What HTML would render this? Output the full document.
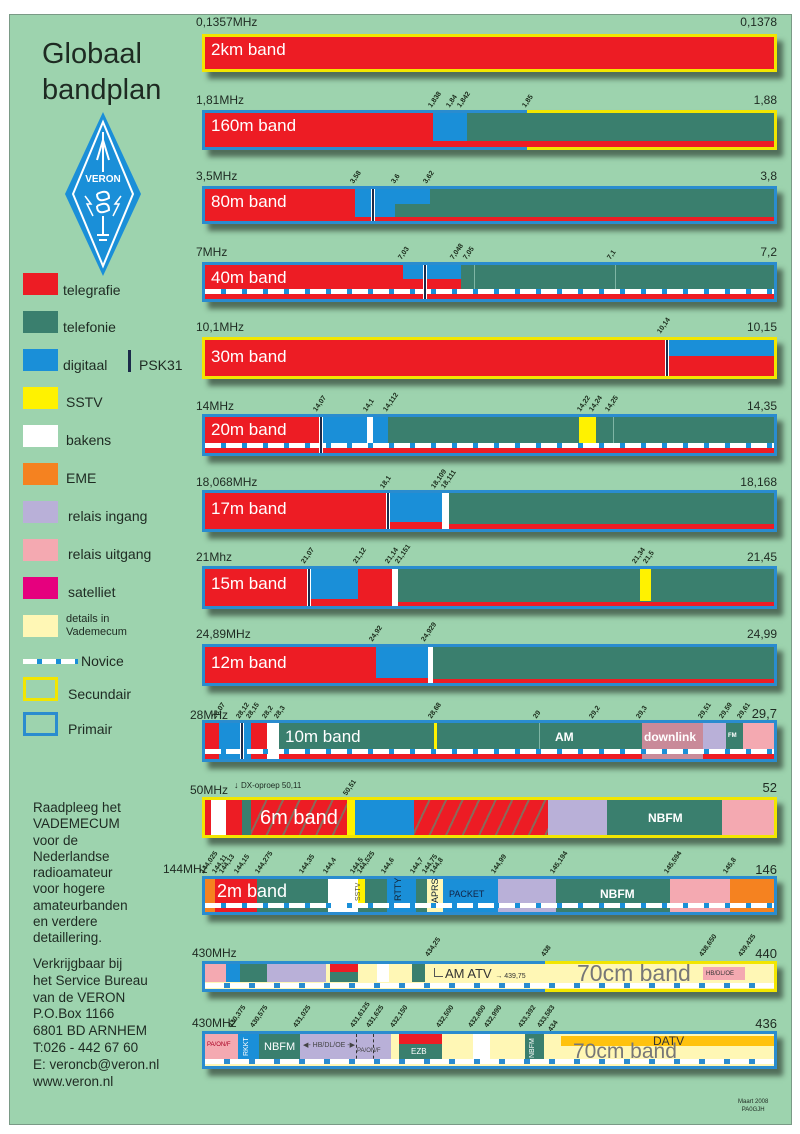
<!DOCTYPE html>
<html><head><meta charset="utf-8"><style>
*{margin:0;padding:0;box-sizing:content-box}
body{width:800px;height:1134px;background:#fff;position:relative;overflow:hidden;font-family:"Liberation Sans",sans-serif;color:#1e2a22}
#p{position:absolute;left:9px;top:14px;width:781px;height:1109px;background:#9dd3ae;border:1px solid #7a9a86}
.a{position:absolute}
.box{position:absolute;left:202px;width:569px;border:3px solid #2a8ccf;box-shadow:6px 7px 5px rgba(40,55,45,.65);background:#ed1c24;overflow:visible}
.sec{border-color:#f2e600}
.s{position:absolute;top:0}
.r{background:#ed1c24}.g{background:#3a7f6e}.b{background:#1a8fd8}.y{background:#fff200}.w{background:#fff}.o{background:#f58220}.l{background:#b9b0d8}.pk{background:#f4a9b1}.c{background:#fff7b5}
.nv{position:absolute;left:0;width:569px;height:5px;background:repeating-linear-gradient(90deg,#fff 0 16px,#1a8fd8 16px 21px)}
.nv2{position:absolute;left:0;width:569px;height:5px;background:repeating-linear-gradient(90deg,#fff 0 19px,#2a8ccf 19px 25px)}
.psk{position:absolute;top:0;width:2px;height:100%;background:#1b2a4a;border-left:1px solid #fff;border-right:1px solid #fff}
.bl{position:absolute;left:6px;top:3px;color:#fff;font-size:17px;white-space:nowrap}
.f{position:absolute;font-size:12px;white-space:nowrap}
.fr{position:absolute;right:23px;font-size:12px;white-space:nowrap}
.t{position:absolute;font-size:7px;margin-top:6px;transform:rotate(-55deg);transform-origin:0 100%;white-space:nowrap;color:#1a2a1a;font-weight:bold}
.lg{position:absolute;left:23px;width:35px;height:22px}
.lt{position:absolute;left:66px;font-size:14px;white-space:nowrap}
.sm{position:absolute;color:#fff;font-size:11px;font-weight:bold;white-space:nowrap}
.hatch{background:repeating-linear-gradient(115deg,#ed1c24 0 13px,#8a6a5a 13px 15px)}
</style></head><body>
<div id="p"></div>

<div class="a" style="left:42px;top:36px;font-size:29px;line-height:36px;color:#1e2a22">Globaal<br>bandplan</div>
<svg class="a" style="left:63px;top:110px" width="80" height="168" viewBox="0 0 80 168">
<polygon points="40,2 78,84 40,166 2,84" fill="#1a8fd8"/>
<polygon points="40,12 70,84 40,156 10,84" fill="none" stroke="#fff" stroke-width="2"/>
<text x="40" y="72" font-size="10" fill="#fff" text-anchor="middle" font-family="Liberation Sans" font-weight="bold">VERON</text>
<path d="M40 22 L40 62 M34 50 L40 30 L46 50 M34 84 q12 -6 12 4 q-12 6 -12 -4 M34 96 q12 -6 12 4 q-12 6 -12 -4 M40 106 L40 125 M34 125 L46 125 M36 130 L44 130" stroke="#fff" stroke-width="2" fill="none"/>
<path d="M22 86 l6 8 -4 0 6 12 M58 86 l-6 8 4 0 -6 12" stroke="#fff" stroke-width="1.5" fill="none"/>
</svg>

<div class="lg r" style="top:273px"></div><div class="lt" style="left:63px;top:282px">telegrafie</div>
<div class="lg g" style="top:311px"></div><div class="lt" style="left:63px;top:319px">telefonie</div>
<div class="lg b" style="top:349px"></div><div class="lt" style="left:63px;top:357px">digitaal</div>
<div class="a" style="left:128px;top:350px;width:3px;height:22px;background:#1b2a4a"></div><div class="lt" style="left:139px;top:357px">PSK31</div>
<div class="lg y" style="top:387px"></div><div class="lt" style="top:394px">SSTV</div>
<div class="lg w" style="top:425px"></div><div class="lt" style="top:432px">bakens</div>
<div class="lg o" style="top:463px"></div><div class="lt" style="top:470px">EME</div>
<div class="lg l" style="top:501px"></div><div class="lt" style="left:68px;top:508px">relais ingang</div>
<div class="lg pk" style="top:539px"></div><div class="lt" style="left:68px;top:546px">relais uitgang</div>
<div class="lg" style="top:577px;background:#e6007e"></div><div class="lt" style="left:68px;top:584px">satelliet</div>
<div class="lg c" style="top:615px"></div><div class="lt" style="left:66px;top:613px;font-size:11px;line-height:13px">details in<br>Vademecum</div>
<div class="a" style="left:23px;top:659px;width:55px;height:5px;background:repeating-linear-gradient(90deg,#fff 0 14px,#1a8fd8 14px 19px)"></div><div class="lt" style="left:81px;top:653px">Novice</div>
<div class="a" style="left:23px;top:677px;width:29px;height:18px;border:3px solid #f2e600"></div><div class="lt" style="left:68px;top:686px">Secundair</div>
<div class="a" style="left:23px;top:712px;width:29px;height:18px;border:3px solid #2a8ccf"></div><div class="lt" style="left:68px;top:721px">Primair</div>

<div class="a" style="left:33px;top:800px;font-size:13.5px;line-height:16.3px">Raadpleeg het<br>VADEMECUM<br>voor de<br>Nederlandse<br>radioamateur<br>voor hogere<br>amateurbanden<br>en verdere<br>detaillering.</div>
<div class="a" style="left:33px;top:956px;font-size:13.5px;line-height:16.8px">Verkrijgbaar bij<br>het Service Bureau<br>van de VERON<br>P.O.Box 1166<br>6801 BD ARNHEM<br>T:026 - 442 67 60<br>E: veroncb@veron.nl<br>www.veron.nl</div>
<div class="a" style="left:738px;top:1098px;font-size:6px;line-height:8px;text-align:center">Maart 2008<br>PA0GJH</div>

<!-- 2km -->
<div class="f" style="left:196px;top:15px">0,1357MHz</div><div class="fr" style="top:15px">0,1378</div>
<div class="box sec" style="top:34px;height:32px"><div class="bl">2km band</div></div>

<!-- 160m -->
<div class="f" style="left:196px;top:93px">1,81MHz</div><div class="fr" style="top:93px">1,88</div>
<div class="t" style="left:433px;top:96px">1,838</div><div class="t" style="left:451px;top:96px">1,84</div><div class="t" style="left:462px;top:96px">1,842</div><div class="t" style="left:527px;top:96px">1,85</div>
<div class="box" style="top:110px;height:34px;background:#3a7f6e">
<div class="s r" style="left:0;width:228px;height:34px"></div>
<div class="s b" style="left:228px;width:34px;height:28px"></div>
<div class="s r" style="left:228px;top:28px;width:341px;height:6px"></div>
<div class="a" style="left:322px;top:-3px;right:-3px;bottom:-3px;border:3px solid #f2e600;border-left:none"></div>
<div class="bl">160m band</div></div>

<!-- 80m -->
<div class="f" style="left:196px;top:169px">3,5MHz</div><div class="fr" style="top:169px">3,8</div>
<div class="t" style="left:355px;top:172px">3,58</div><div class="t" style="left:396px;top:172px">3,6</div><div class="t" style="left:428px;top:172px">3,62</div>
<div class="box" style="top:186px;height:32px;background:#3a7f6e">
<div class="s r" style="left:0;width:150px;height:32px"></div>
<div class="s b" style="left:150px;width:75px;height:15px"></div>
<div class="s b" style="left:150px;width:40px;height:28px"></div>
<div class="s r" style="left:150px;top:28px;width:419px;height:4px"></div>
<div class="psk" style="left:166px"></div>
<div class="bl">80m band</div></div>

<!-- 40m -->
<div class="f" style="left:196px;top:245px">7MHz</div><div class="fr" style="top:245px">7,2</div>
<div class="t" style="left:403px;top:248px">7,03</div><div class="t" style="left:455px;top:248px">7,048</div><div class="t" style="left:468px;top:248px">7,05</div><div class="t" style="left:612px;top:248px">7,1</div>
<div class="box" style="top:262px;height:34px">
<div class="s b" style="left:198px;width:58px;height:14px"></div>
<div class="s g" style="left:256px;width:313px;height:24px"></div>
<div class="s" style="left:269px;width:1px;height:24px;background:#7fb5a5"></div>
<div class="s" style="left:410px;width:1px;height:24px;background:#7fb5a5"></div>
<div class="nv" style="top:24px"></div>
<div class="psk" style="left:218px"></div>
<div class="bl">40m band</div></div>

<!-- 30m -->
<div class="f" style="left:196px;top:320px">10,1MHz</div><div class="fr" style="top:320px">10,15</div>
<div class="t" style="left:662px;top:322px">10,14</div>
<div class="box sec" style="top:337px;height:36px">
<div class="s b" style="left:463px;width:106px;height:16px"></div>
<div class="psk" style="left:460px"></div>
<div class="bl" style="top:7px">30m band</div></div>

<!-- 20m -->
<div class="f" style="left:196px;top:399px">14MHz</div><div class="fr" style="top:399px">14,35</div>
<div class="t" style="left:318px;top:400px">14,07</div><div class="t" style="left:368px;top:400px">14,1</div><div class="t" style="left:388px;top:400px">14,112</div><div class="t" style="left:582px;top:400px">14,22</div><div class="t" style="left:594px;top:400px">14,24</div><div class="t" style="left:610px;top:400px">14,25</div>
<div class="box" style="top:414px;height:36px">
<div class="s b" style="left:114px;width:69px;height:26px"></div>
<div class="s g" style="left:183px;width:386px;height:26px"></div>
<div class="s w" style="left:162px;width:6px;height:31px"></div>
<div class="s y" style="left:374px;width:17px;height:26px"></div>
<div class="s" style="left:408px;width:1px;height:26px;background:#7fb5a5"></div>
<div class="nv" style="top:26px"></div>
<div class="psk" style="left:114px"></div>
<div class="bl">20m band</div></div>

<!-- 17m -->
<div class="f" style="left:196px;top:475px">18,068MHz</div><div class="fr" style="top:475px">18,168</div>
<div class="t" style="left:385px;top:477px">18,1</div><div class="t" style="left:436px;top:477px">18,109</div><div class="t" style="left:446px;top:477px">18,111</div>
<div class="box" style="top:490px;height:36px">
<div class="s b" style="left:182px;width:55px;height:29px"></div>
<div class="s g" style="left:244px;width:325px;height:31px"></div>
<div class="s w" style="left:237px;width:7px;height:36px"></div>
<div class="psk" style="left:181px"></div>
<div class="bl" style="top:6px">17m band</div></div>

<!-- 15m -->
<div class="f" style="left:196px;top:550px">21Mhz</div><div class="fr" style="top:550px">21,45</div>
<div class="t" style="left:306px;top:552px">21,07</div><div class="t" style="left:358px;top:552px">21,12</div><div class="t" style="left:390px;top:552px">21,14</div><div class="t" style="left:400px;top:552px">21,151</div><div class="t" style="left:637px;top:552px">21,34</div><div class="t" style="left:648px;top:552px">21,5</div>
<div class="box" style="top:566px;height:37px">
<div class="s b" style="left:103px;width:50px;height:30px"></div>
<div class="s g" style="left:193px;width:376px;height:33px"></div>
<div class="s w" style="left:187px;width:6px;height:37px"></div>
<div class="s y" style="left:435px;width:11px;height:32px"></div>
<div class="psk" style="left:102px"></div>
<div class="bl" style="top:5px">15m band</div></div>

<!-- 12m -->
<div class="f" style="left:196px;top:627px">24,89MHz</div><div class="fr" style="top:627px">24,99</div>
<div class="t" style="left:374px;top:630px">24,92</div><div class="t" style="left:426px;top:630px">24,929</div>
<div class="box" style="top:644px;height:36px">
<div class="s b" style="left:171px;width:52px;height:31px"></div>
<div class="s g" style="left:228px;width:341px;height:32px"></div>
<div class="s w" style="left:223px;width:5px;height:36px"></div>
<div class="bl" style="top:6px">12m band</div></div>

<!-- 10m -->
<div class="f" style="left:190px;top:708px">28MHz</div><div class="fr" style="top:706px;font-size:13px">29,7</div>
<div class="t" style="left:217px;top:707px">28,07</div><div class="t" style="left:241px;top:707px">28,12</div><div class="t" style="left:251px;top:707px">28,15</div><div class="t" style="left:267px;top:707px">28,2</div><div class="t" style="left:279px;top:707px">28,3</div><div class="t" style="left:433px;top:707px">28,68</div><div class="t" style="left:538px;top:707px">29</div><div class="t" style="left:594px;top:707px">29,2</div><div class="t" style="left:641px;top:707px">29,3</div><div class="t" style="left:703px;top:707px">29,51</div><div class="t" style="left:724px;top:707px">29,59</div><div class="t" style="left:742px;top:707px">29,61</div>
<div class="box" style="top:720px;height:36px">
<div class="s b" style="left:14px;width:32px;height:36px"></div>
<div class="s w" style="left:62px;width:12px;height:36px"></div>
<div class="s g" style="left:74px;width:363px;height:26px"></div>
<div class="s y" style="left:229px;width:3px;height:26px"></div>
<div class="s" style="left:334px;width:1px;height:26px;background:#7fb5a5"></div>
<div class="s" style="left:437px;width:61px;height:36px;background:#c98a99"></div>
<div class="s l" style="left:498px;width:23px;height:30px"></div>
<div class="s g" style="left:521px;width:17px;height:26px"></div>
<div class="s pk" style="left:538px;width:31px;height:30px"></div>
<div class="nv" style="top:26px"></div>
<div class="psk" style="left:35px;height:36px"></div>
<div class="bl" style="left:80px;top:4px">10m band</div>
<div class="sm" style="left:350px;top:7px;font-size:12px">AM</div>
<div class="sm" style="left:439px;top:7px;font-size:12px">downlink</div>
<div class="sm" style="left:523px;top:10px;font-size:6px">FM</div></div>

<!-- 6m -->
<div class="f" style="left:190px;top:783px">50MHz</div><div class="fr" style="top:780px;font-size:13px">52</div>
<div class="a" style="left:234px;top:780px;font-size:9px">↓</div><div class="a" style="left:241px;top:781px;font-size:8px">DX-oproep 50,11</div>
<div class="t" style="left:348px;top:784px">50,51</div>
<div class="box sec" style="top:797px;height:35px">
<div class="s w" style="left:6px;width:15px;height:35px"></div>
<div class="s g" style="left:37px;width:9px;height:35px"></div>
<div class="s hatch" style="left:46px;width:96px;height:35px"></div>
<div class="s y" style="left:142px;width:8px;height:35px"></div>
<div class="s b" style="left:150px;width:59px;height:35px"></div>
<div class="s hatch" style="left:209px;width:134px;height:35px"></div>
<div class="s l" style="left:343px;width:59px;height:35px"></div>
<div class="s g" style="left:402px;width:115px;height:35px"></div>
<div class="s pk" style="left:517px;width:52px;height:35px"></div>
<div class="bl" style="left:55px;top:7px;font-size:20px">6m band</div>
<div class="sm" style="left:443px;top:11px;font-size:12px">NBFM</div></div>

<!-- 2m -->
<div class="f" style="left:163px;top:862px">144MHz</div><div class="fr" style="top:862px;font-size:13px">146</div>
<div class="t" style="left:205px;top:862px">144,025</div><div class="t" style="left:217px;top:862px">144,11</div><div class="t" style="left:224px;top:862px">144,13</div><div class="t" style="left:239px;top:862px">144,15</div><div class="t" style="left:260px;top:862px">144,275</div><div class="t" style="left:304px;top:862px">144,35</div><div class="t" style="left:328px;top:862px">144,4</div><div class="t" style="left:355px;top:862px">144,5</div><div class="t" style="left:362px;top:862px">144,525</div><div class="t" style="left:386px;top:862px">144,6</div><div class="t" style="left:415px;top:862px">144,7</div><div class="t" style="left:427px;top:862px">144,75</div><div class="t" style="left:435px;top:862px">144,8</div><div class="t" style="left:496px;top:862px">144,99</div><div class="t" style="left:555px;top:862px">145,194</div><div class="t" style="left:669px;top:862px">145,594</div><div class="t" style="left:728px;top:862px">145,8</div>
<div class="box" style="top:876px;height:33px;background:#3a7f6e">
<div class="s o" style="left:0;width:10px;height:33px"></div>
<div class="s r" style="left:10px;width:42px;height:33px"></div>
<div class="s w" style="left:123px;width:30px;height:33px"></div>
<div class="s y" style="left:153px;width:7px;height:25px"></div>
<div class="s b" style="left:182px;width:29px;height:33px"></div>
<div class="s c" style="left:222px;width:16px;height:33px"></div>
<div class="s b" style="left:238px;width:55px;height:33px"></div>
<div class="s l" style="left:293px;width:58px;height:33px"></div>
<div class="s pk" style="left:465px;width:60px;height:33px"></div>
<div class="s o" style="left:525px;width:44px;height:33px"></div>
<div class="nv" style="top:24px"></div>
<div class="bl" style="left:12px;top:2px;font-size:18px">2m band</div>
<div class="a" style="left:150px;font-size:7px;transform:rotate(-90deg);transform-origin:0 0;top:22px;color:#553">SSTV</div>
<div class="a" style="left:188px;top:22px;font-size:9px;transform:rotate(-90deg);transform-origin:0 0;color:#123">RTTY</div>
<div class="a" style="left:225px;top:24px;font-size:9px;transform:rotate(-90deg);transform-origin:0 0;color:#123">APRS</div>
<div class="a" style="left:244px;top:10px;font-size:9px;color:#124">PACKET</div>
<div class="sm" style="left:395px;top:8px;font-size:12px">NBFM</div></div>

<!-- 70cm a -->
<div class="f" style="left:192px;top:946px">430MHz</div><div class="fr" style="top:946px;font-size:13px">440</div>
<div class="t" style="left:430px;top:945px">434,25</div><div class="t" style="left:546px;top:945px">438</div><div class="t" style="left:704px;top:945px">438,650</div><div class="t" style="left:743px;top:945px">439,425</div>
<div class="box" style="top:961px;height:25px;background:#fff7b5">
<div class="s pk" style="left:0;width:21px;height:18px"></div>
<div class="s b" style="left:21px;width:14px;height:18px"></div>
<div class="s g" style="left:35px;width:27px;height:18px"></div>
<div class="s l" style="left:62px;width:59px;height:18px"></div>
<div class="s g" style="left:125px;width:28px;height:18px"></div>
<div class="s r" style="left:125px;width:28px;height:8px"></div>
<div class="s w" style="left:172px;width:12px;height:18px"></div>
<div class="s g" style="left:207px;width:13px;height:18px"></div>
<div class="s" style="left:229px;top:4px;width:8px;height:8px;border-left:1px solid #555;border-bottom:1px solid #555"></div>
<div class="a" style="left:240px;top:2px;font-size:13px;color:#333;white-space:nowrap">AM ATV <span style="font-size:7px">→ 439,75</span></div>
<div class="a" style="left:372px;top:-4px;font-size:23px;color:#777;white-space:nowrap">70cm band</div>
<div class="s pk" style="left:498px;top:3px;width:42px;height:13px"></div>
<div class="a" style="left:501px;top:7px;font-size:6px;color:#333">HB/DL/OE</div>
<div class="nv2" style="top:19px"></div>
<div class="a" style="left:340px;top:-3px;right:-3px;bottom:-3px;border:3px solid #f2e600;border-left:none"></div>
</div>

<!-- 70cm b -->
<div class="f" style="left:192px;top:1016px">430MHz</div><div class="fr" style="top:1016px;font-size:13px">436</div>
<div class="t" style="left:233px;top:1016px">430,375</div><div class="t" style="left:255px;top:1016px">430,575</div><div class="t" style="left:298px;top:1016px">431,025</div><div class="t" style="left:355px;top:1016px">431,6125</div><div class="t" style="left:371px;top:1016px">431,625</div><div class="t" style="left:395px;top:1016px">432,150</div><div class="t" style="left:441px;top:1016px">432,500</div><div class="t" style="left:473px;top:1016px">432,800</div><div class="t" style="left:489px;top:1016px">432,990</div><div class="t" style="left:523px;top:1016px">433,392</div><div class="t" style="left:542px;top:1016px">433,583</div><div class="t" style="left:553px;top:1020px">434</div>
<div class="box" style="top:1031px;height:32px;background:#fff7b5">
<div class="s pk" style="left:0;width:33px;height:25px"></div>
<div class="s b" style="left:33px;width:21px;height:25px"></div>
<div class="s g" style="left:54px;width:41px;height:25px"></div>
<div class="s l" style="left:95px;width:91px;height:25px"></div>
<div class="s" style="left:151px;width:0;height:30px;border-left:1px dashed #333"></div>
<div class="s" style="left:168px;width:0;height:30px;border-left:1px dashed #333"></div>
<div class="s g" style="left:194px;width:43px;height:25px"></div>
<div class="s r" style="left:194px;width:43px;height:10px"></div>
<div class="s w" style="left:268px;width:17px;height:30px"></div>
<div class="s g" style="left:320px;width:19px;height:27px"></div>
<div class="s" style="left:356px;top:2px;width:213px;height:10px;background:#ffc20e"></div>
<div class="a" style="left:448px;top:0;font-size:12px;color:#333">DATV</div>
<div class="a" style="left:368px;top:6px;font-size:21px;color:#777;white-space:nowrap">70cm band</div>
<div class="a" style="left:2px;top:8px;font-size:6px;color:#a02">PA/ON/F</div>
<div class="a" style="left:38px;top:22px;font-size:7px;transform:rotate(-90deg);transform-origin:0 0;color:#fff">RKKT</div>
<div class="sm" style="left:59px;top:7px;font-size:11px;font-weight:normal">NBFM</div>
<div class="a" style="left:98px;top:7px;font-size:7px;color:#444;white-space:nowrap">◀- HB/DL/OE -▶</div>
<div class="a" style="left:152px;top:14px;font-size:6px;color:#444">PA/ON/F</div>
<div class="sm" style="left:206px;top:13px;font-size:8px;font-weight:normal">EZB</div>
<div class="a" style="left:324px;top:24px;font-size:7px;transform:rotate(-90deg);transform-origin:0 0;color:#fff">NBFM</div>
<div class="nv2" style="top:25px"></div>
</div>
</body></html>
